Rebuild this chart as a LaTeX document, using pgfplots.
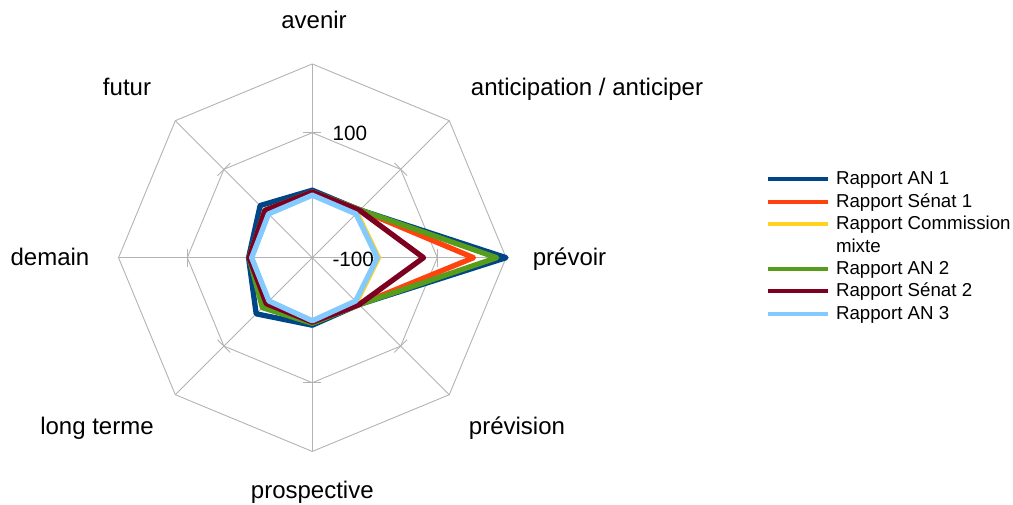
\documentclass[border=0pt]{standalone}
\usepackage{pgfplots}
\usepackage{pgfplotstable}
\pgfplotsset{compat=1.18}
\usepackage{fontspec}
\setmainfont{Liberation Sans}
\definecolor{cAN1}{HTML}{004586}
\definecolor{cSEN1}{HTML}{FF420E}
\definecolor{cCM}{HTML}{FFD320}
\definecolor{cAN2}{HTML}{579D1C}
\definecolor{cSEN2}{HTML}{7E0021}
\definecolor{cAN3}{HTML}{83CAFF}
\definecolor{gridc}{HTML}{B3B3B3}

% angle (deg) and values; axis runs from -100 (centre) to 210 (outer ring)
\pgfplotstableread{
ang an1 sen1 cm an2 sen2 an3
90 8 5 1 5 5 0
45 8 8 1 8 7 -1
0 210 158 6 195 78 4
-45 6 6 0 6 6 -2
-90 8 4 1 5 3 1
-135 27 5 0 13 4 -2
180 2 1 -1 1 1 -3
135 18 7 0 7 7 -1
90 8 5 1 5 5 0
}\data

\newcommand{\radar}[2]{%
  \addplot[#1, line width=5.3pt, line join=round, line cap=round]
    table[x expr={(\thisrow{#2}+100)*0.625*cos(\thisrow{ang})},
          y expr={(\thisrow{#2}+100)*0.625*sin(\thisrow{ang})}] {\data};}

\begin{document}
\begin{tikzpicture}
\begin{axis}[
  x=1pt, y=1pt,
  xmin=-312.3, xmax=700.7, ymin=-247.3, ymax=257.7,
  hide axis, clip=false,
  legend style={at={(axis cs:453.7,87.7)}, anchor=north west, draw=none, fill=none,
    inner sep=0pt, outer sep=0pt, row sep=3.4pt,
    font=\fontsize{18.7}{22}\selectfont,
    cells={anchor=west},
    nodes={inner sep=0pt, text height=15pt, text depth=4pt},
    /tikz/every odd column/.append style={column sep=6pt}},
  legend image code/.code={\draw[#1, line width=4pt, line cap=butt] (0pt,0pt) -- (60pt,0pt);},
]
\path (axis cs:-312.3,-247.3) rectangle (axis cs:700.7,257.7);
% grid rings
\addplot[gridc, line width=0.9pt, forget plot]
  table[x expr={125*cos(\thisrow{ang})}, y expr={125*sin(\thisrow{ang})}] {\data};
\addplot[gridc, line width=0.9pt, forget plot]
  table[x expr={193.75*cos(\thisrow{ang})}, y expr={193.75*sin(\thisrow{ang})}] {\data};
\pgfplotsinvokeforeach{0,45,90,135,180,225,270,315}{
  \draw[gridc, line width=0.9pt] (axis cs:0,0) -- (axis cs:{193.75*cos(#1)},{193.75*sin(#1)});
  \draw[gridc, line width=0.9pt] (axis cs:{125*cos(#1)+9*sin(#1)},{125*sin(#1)-9*cos(#1)})
     -- (axis cs:{125*cos(#1)-9*sin(#1)},{125*sin(#1)+9*cos(#1)});
}
% tick labels
\node[anchor=base west, font=\fontsize{20.7}{24}\selectfont, inner sep=0pt] at (axis cs:20,117) {100};
\node[anchor=base west, font=\fontsize{20.7}{24}\selectfont, inner sep=0pt] at (axis cs:20,-9) {-100};
% category labels
\begin{scope}[every node/.style={anchor=base, font=\fontsize{24}{28}\selectfont, inner sep=0pt}]
\node at (axis cs:1.7,229.5) {avenir};
\node at (axis cs:274.7,161.7) {anticipation / anticiper};
\node at (axis cs:257.2,-8.3) {prévoir};
\node at (axis cs:204.7,-177.3) {prévision};
\node at (axis cs:0,-240.6) {prospective};
\node at (axis cs:-215.3,-177.3) {long terme};
\node at (axis cs:-262.3,-8.3) {demain};
\node at (axis cs:-185.3,161.7) {futur};
\end{scope}
% series
\radar{cAN1}{an1}
\addlegendentry{Rapport AN 1}
\radar{cSEN1}{sen1}
\addlegendentry{Rapport Sénat 1}
\radar{cCM}{cm}
\addlegendentry{Rapport Commission}
\addlegendimage{empty legend}
\addlegendentry{mixte}
\radar{cAN2}{an2}
\addlegendentry{Rapport AN 2}
\radar{cSEN2}{sen2}
\addlegendentry{Rapport Sénat 2}
\radar{cAN3}{an3}
\addlegendentry{Rapport AN 3}
\end{axis}
\end{tikzpicture}
\end{document}
